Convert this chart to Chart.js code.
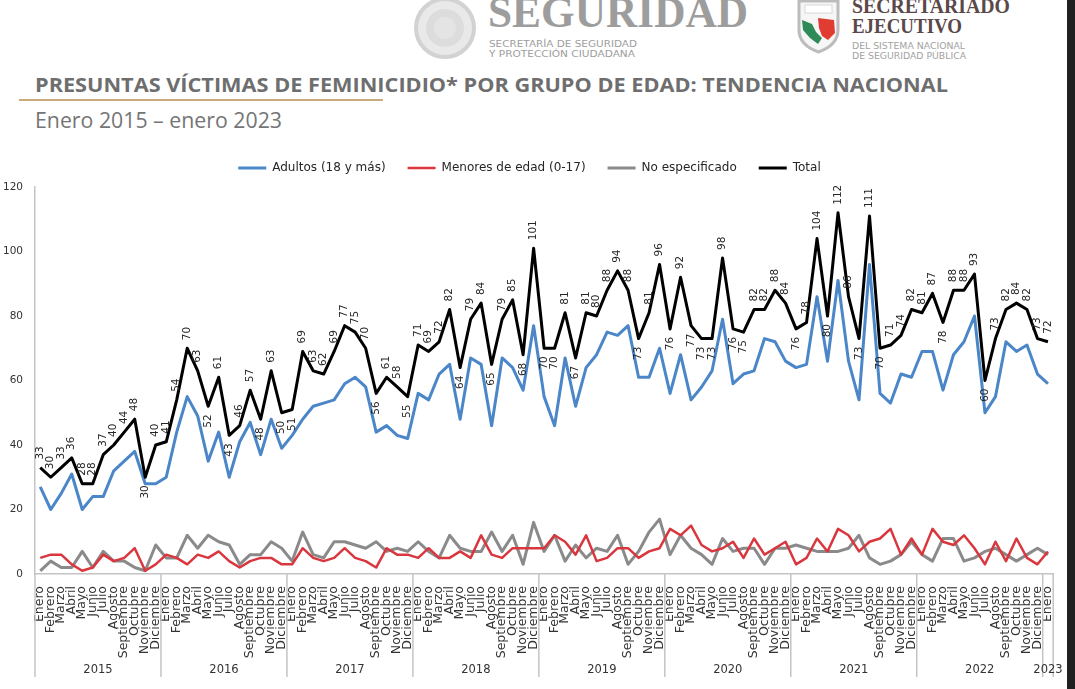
<!DOCTYPE html>
<html>
<head>
<meta charset="utf-8">
<script src="https://cdn.jsdelivr.net/npm/chart.js@4.4.1/dist/chart.umd.min.js"></script>
<style>
  html, body { margin:0; padding:0; background:#fff; width:1075px; height:689px; overflow:hidden; position:relative; }
  #hdr { position:absolute; left:0; top:0; }
  #wrap { position:absolute; left:0; top:140px; width:1067px; height:549px; }
  #strip { position:absolute; left:1067px; top:0; width:8px; height:689px; background:#202020; }
</style>
</head>
<body>
<svg id="hdr" width="1075" height="140" xmlns="http://www.w3.org/2000/svg">
  <circle cx="445" cy="28" r="29" fill="#e9e9e9" stroke="#d2d2d2" stroke-width="4"/>
  <circle cx="445" cy="28" r="19" fill="#dcdcdc"/>
  <circle cx="445" cy="28" r="11" fill="#e4e4e4"/>
  <text x="488" y="27" font-family="Liberation Serif" font-weight="bold" font-size="44" fill="#9d9d9d" textLength="260" lengthAdjust="spacingAndGlyphs">SEGURIDAD</text>
  <text x="489" y="47" font-family="DejaVu Sans" font-size="8" fill="#9d9d9d" textLength="148" lengthAdjust="spacingAndGlyphs">SECRETARÍA DE SEGURIDAD</text>
  <text x="489" y="57" font-family="DejaVu Sans" font-size="8" fill="#9d9d9d" textLength="146" lengthAdjust="spacingAndGlyphs">Y PROTECCIÓN CIUDADANA</text>
  <path d="M799,1 L838,1 L838,30 Q838,45 818.5,52 Q799,45 799,30 Z" fill="#f6f6f6" stroke="#bcbcbc" stroke-width="3"/>
  <rect x="805" y="5" width="27" height="8" fill="#ffffff" stroke="#d0d0d0" stroke-width="0.8"/>
  <path d="M802,20 L812,24 L816,32 L822,38 L818,44 L810,38 L803,30 Z" fill="#2e8b57"/>
  <path d="M818,18 L834,20 L835,33 L828,40 L822,36 L819,28 Z" fill="#e03c31"/>
  <text x="852" y="13" font-family="Liberation Serif" font-weight="bold" font-size="22" fill="#5b4848" textLength="158" lengthAdjust="spacingAndGlyphs">SECRETARIADO</text>
  <text x="852" y="33" font-family="Liberation Serif" font-weight="bold" font-size="22" fill="#5b4848" textLength="110" lengthAdjust="spacingAndGlyphs">EJECUTIVO</text>
  <text x="852" y="49" font-family="DejaVu Sans" font-size="8" fill="#a2a2a2" textLength="113" lengthAdjust="spacingAndGlyphs">DEL SISTEMA NACIONAL</text>
  <text x="852" y="59" font-family="DejaVu Sans" font-size="8" fill="#a2a2a2" textLength="114" lengthAdjust="spacingAndGlyphs">DE SEGURIDAD PÚBLICA</text>
  <text x="35" y="92" font-family="Open Sans" font-weight="bold" font-size="20" fill="#6e6e6e" textLength="913" lengthAdjust="spacingAndGlyphs">PRESUNTAS VÍCTIMAS DE FEMINICIDIO* POR GRUPO DE EDAD: TENDENCIA NACIONAL</text>
  <rect x="19" y="99" width="364" height="2" fill="#c9ab7c"/>
  <text x="35" y="128" font-family="Open Sans" font-size="21" fill="#757575" textLength="247" lengthAdjust="spacingAndGlyphs">Enero 2015 – enero 2023</text>
</svg>
<div id="wrap"><canvas id="c" width="1067" height="549"></canvas></div>
<div id="strip"></div>
<script>
// ---- Data ----
const months = ['Enero','Febrero','Marzo','Abril','Mayo','Junio','Julio','Agosto','Septiembre','Octubre','Noviembre','Diciembre'];
const years = ['2015','2016','2017','2018','2019','2020','2021','2022','2023'];
const monthsPerYear = [12,12,12,12,12,12,12,12,1];
const yTicks = [0,20,40,60,80,100,120];

const adultos = [
  27,20,25,31,20,24,24,32,35,38,28,28,
  30,44,55,49,35,44,30,41,47,37,48,39,
  43,48,52,53,54,59,61,58,44,46,43,42,
  56,54,62,65,48,67,65,46,67,64,57,77,
  55,46,67,52,64,68,75,74,77,61,61,70,
  56,68,54,58,63,79,59,62,63,73,72,66,
  64,65,86,66,91,66,54,96,56,53,62,61,
  69,69,57,68,72,80,50,55,72,69,71,62,
  59
];
const menores = [
  5,6,6,3,1,2,6,4,5,8,1,3,
  6,5,3,6,5,7,4,2,4,5,5,3,
  3,8,5,4,5,8,5,4,2,8,6,6,
  5,8,5,5,7,5,12,6,5,8,8,8,
  8,12,10,6,12,4,5,8,8,5,7,8,
  14,12,15,9,7,8,10,5,11,6,8,10,
  3,5,11,7,14,12,7,10,11,14,6,11,
  6,14,10,9,12,8,3,10,4,11,5,3,
  7
];
const noEspecificado = [
  1,4,2,2,7,2,7,4,4,2,1,9,
  5,5,12,8,12,10,9,3,6,6,10,8,
  4,13,6,5,10,10,9,8,10,7,8,7,
  10,7,5,12,8,7,7,13,7,12,3,16,
  7,12,4,9,5,8,7,12,3,7,13,17,
  6,12,8,6,3,11,7,8,8,3,8,8,
  9,8,7,7,7,8,12,5,3,4,6,10,
  6,4,11,11,4,5,7,8,6,4,6,8,
  6
];
const total = [
  33,30,33,36,28,28,37,40,44,48,30,40,
  41,54,70,63,52,61,43,46,57,48,63,50,
  51,69,63,62,69,77,75,70,56,61,58,55,
  71,69,72,82,64,79,84,65,79,85,68,101,
  70,70,81,67,81,80,88,94,88,73,81,96,
  76,92,77,73,73,98,76,75,82,82,88,84,
  76,78,104,80,112,86,73,111,70,71,74,82,
  81,87,78,88,88,93,60,73,82,84,82,73,
  72
];
// months whose total label sits under the line
const labelBelow = [10,16,18,21,23,24,32,35,40,43,46,48,49,51,57,60,62,63,64,66,67,72,75,78,80,86,90];

const categories = [];
years.forEach((y, k) => { for (let m = 0; m < monthsPerYear[k]; m++) categories.push(months[m]); });

const FONT = '"DejaVu Sans", sans-serif';

const decor = {
  id: 'decor',
  afterInit(chart) {
    const lg = chart.legend;
    if (lg && !lg._patched) {
      const f = lg.fit.bind(lg);
      lg.fit = function () { f(); this.height += 3; };
      lg._patched = true;
    }
  },
  afterDatasetsDraw(chart) {
    const ctx = chart.ctx;
    const meta = chart.getDatasetMeta(3);
    ctx.save();
    ctx.font = '10.5px ' + FONT;
    ctx.fillStyle = '#262626';
    ctx.textBaseline = 'middle';
    meta.data.forEach((pt, i) => {
      ctx.save();
      ctx.translate(pt.x, pt.y);
      ctx.rotate(-Math.PI / 2);
      if (labelBelow.includes(i)) { ctx.textAlign = 'right'; ctx.fillText(String(total[i]), -8, 0); }
      else { ctx.textAlign = 'left'; ctx.fillText(String(total[i]), 8, 0); }
      ctx.restore();
    });
    ctx.restore();
  },
  afterDraw(chart) {
    const ctx = chart.ctx, a = chart.chartArea;
    const w = (a.right - a.left) / categories.length;
    const bounds = [0];
    let idx = 0;
    monthsPerYear.forEach(n => { idx += n; bounds.push(idx); });
    ctx.save();
    ctx.strokeStyle = '#c4c4c4';
    ctx.lineWidth = 1.5;
    bounds.forEach(b => {
      const px = a.left + b * w;
      ctx.beginPath(); ctx.moveTo(px, a.bottom); ctx.lineTo(px, a.bottom + 103); ctx.stroke();
    });
    ctx.font = '11.5px ' + FONT;
    ctx.fillStyle = '#333';
    ctx.textAlign = 'center';
    ctx.textBaseline = 'middle';
    years.forEach((y, k) => {
      const cx = a.left + (bounds[k] + bounds[k + 1]) / 2 * w;
      ctx.fillText(y, cx, a.bottom + 96);
    });
    ctx.restore();
  }
};

const ds = (label, data, color, width) => ({
  label, data, borderColor: color, backgroundColor: color, borderWidth: width,
  pointRadius: 0, pointHoverRadius: 0, tension: 0, fill: false, borderJoinStyle: 'round'
});

new Chart(document.getElementById('c'), {
  type: 'line',
  data: {
    labels: categories,
    datasets: [
      Object.assign(ds('Adultos (18 y más)', adultos, '#4a86c8', 3), { order: 3 }),
      Object.assign(ds('Menores de edad (0-17)', menores, '#d9363e', 2.5), { order: 1 }),
      Object.assign(ds('No especificado', noEspecificado, '#8a8a8a', 3), { order: 2 }),
      Object.assign(ds('Total', total, '#000000', 3), { order: 0 })
    ]
  },
  options: {
    responsive: false,
    animation: false,
    events: [],
    layout: { padding: { left: 0, right: 8, top: 0, bottom: 0 } },
    plugins: {
      tooltip: { enabled: false },
      legend: {
        position: 'top',
        labels: {
          font: { family: FONT, size: 12 },
          color: '#262626',
          usePointStyle: true,
          pointStyle: 'line',
          pointStyleWidth: 28,
          padding: 22,
          sort: (a, b) => a.datasetIndex - b.datasetIndex
        }
      }
    },
    scales: {
      x: {
        offset: true,
        grid: { display: false },
        border: { display: true, color: '#c4c4c4', width: 1.5 },
        ticks: {
          autoSkip: false, maxRotation: 90, minRotation: 90, padding: 4,
          font: { family: FONT, size: 12.5 }, color: '#333'
        },
        afterFit: s => { s.height = 115; }
      },
      y: {
        min: yTicks[0], max: yTicks[yTicks.length - 1],
        grid: { display: false, drawTicks: false },
        border: { display: true, color: '#c4c4c4', width: 1.5 },
        ticks: { padding: 12, font: { family: FONT, size: 10.5 }, color: '#333' },
        afterBuildTicks: s => { s.ticks = yTicks.map(v => ({ value: v })); },
        afterFit: s => { s.width = 35; }
      }
    }
  },
  plugins: [decor]
});
</script>
</body>
</html>
